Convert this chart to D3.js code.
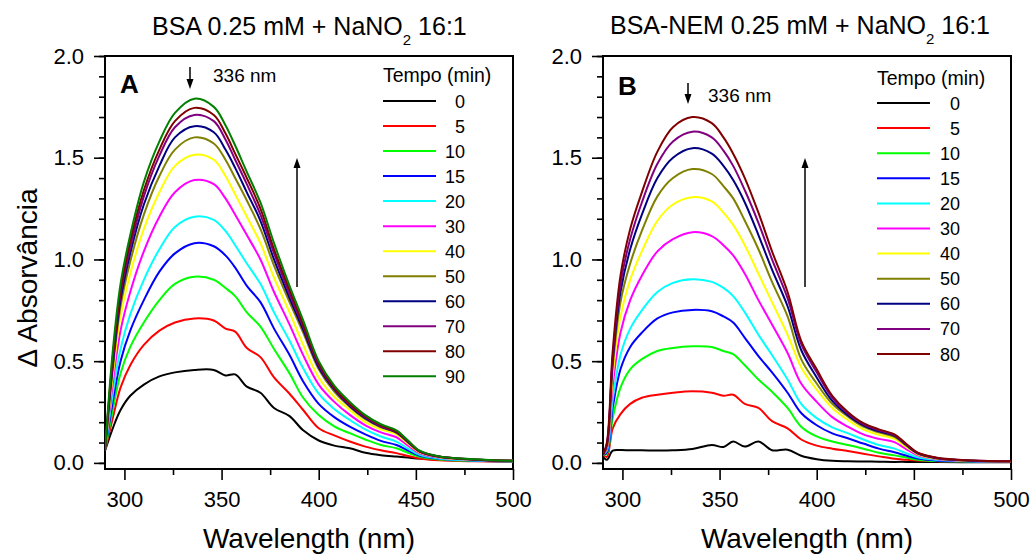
<!DOCTYPE html>
<html>
<head>
<meta charset="utf-8">
<script src="https://cdn.jsdelivr.net/npm/d3@7"></script>
<style>
    body { margin: 0; background: #fff; }
    svg { display: block; }
    text { font-family: "Liberation Sans", Arial, sans-serif; fill: #000; }
</style>
</head>
<body>
<svg id="chart" width="1032" height="556"></svg>
<script>
'use strict';

// wavelength grids (nm)
var wavelengthsA = [290, 294, 298, 303, 310, 318, 326, 336, 346, 352, 357, 363, 370, 377,
                    385, 392, 400, 408, 416, 424, 432, 440, 446, 452, 462, 480, 500];
var wavelengthsB = [290, 292, 295, 299, 304, 310, 318, 326, 336, 346, 352, 357, 363, 370,
                    377, 385, 392, 400, 408, 416, 424, 432, 440, 446, 452, 462, 480, 500];

// legend labels (Tempo, min)
var timesA = ["0", "5", "10", "15", "20", "30", "40", "50", "60", "70", "80", "90"];
var timesB = ["0", "5", "10", "15", "20", "30", "40", "50", "60", "70", "80"];

// panel A: BSA + NaNO2, delta absorbance
var bsa0  = [0.06, 0.17, 0.26, 0.33, 0.385, 0.425, 0.445, 0.457, 0.457, 0.43, 0.435, 0.375, 0.345, 0.27, 0.23, 0.16, 0.11, 0.085, 0.072, 0.05, 0.038, 0.031, 0.026, 0.021, 0.015, 0.01, 0.008];
var bsa5  = [0.06, 0.22, 0.37, 0.48, 0.58, 0.65, 0.69, 0.71, 0.70, 0.66, 0.645, 0.565, 0.52, 0.42, 0.34, 0.26, 0.17, 0.135, 0.105, 0.08, 0.062, 0.048, 0.034, 0.022, 0.013, 0.008, 0.006];
var bsa10 = [0.06, 0.26, 0.44, 0.57, 0.69, 0.80, 0.88, 0.915, 0.90, 0.86, 0.82, 0.74, 0.67, 0.56, 0.44, 0.32, 0.235, 0.18, 0.146, 0.115, 0.088, 0.072, 0.05, 0.03, 0.017, 0.01, 0.008];
var bsa15 = [0.06, 0.30, 0.50, 0.65, 0.80, 0.94, 1.03, 1.08, 1.065, 1.02, 0.96, 0.87, 0.79, 0.66, 0.53, 0.40, 0.29, 0.225, 0.178, 0.14, 0.108, 0.088, 0.06, 0.035, 0.02, 0.011, 0.008];
var bsa20 = [0.06, 0.34, 0.56, 0.73, 0.90, 1.05, 1.16, 1.21, 1.195, 1.14, 1.07, 0.98, 0.88, 0.74, 0.60, 0.465, 0.34, 0.265, 0.211, 0.165, 0.13, 0.105, 0.07, 0.04, 0.022, 0.012, 0.008];
var bsa30 = [0.06, 0.39, 0.65, 0.84, 1.04, 1.21, 1.33, 1.39, 1.37, 1.30, 1.22, 1.12, 1.00, 0.84, 0.68, 0.53, 0.385, 0.30, 0.236, 0.185, 0.15, 0.126, 0.085, 0.047, 0.026, 0.014, 0.01];
var bsa40 = [0.06, 0.43, 0.72, 0.93, 1.15, 1.33, 1.46, 1.515, 1.49, 1.41, 1.32, 1.21, 1.08, 0.91, 0.74, 0.58, 0.42, 0.325, 0.26, 0.20, 0.165, 0.14, 0.094, 0.052, 0.028, 0.015, 0.01];
var bsa50 = [0.06, 0.46, 0.77, 0.99, 1.22, 1.41, 1.54, 1.60, 1.57, 1.49, 1.40, 1.29, 1.15, 0.97, 0.79, 0.64, 0.46, 0.35, 0.275, 0.215, 0.175, 0.148, 0.10, 0.055, 0.03, 0.016, 0.01];
var bsa60 = [0.06, 0.48, 0.80, 1.03, 1.27, 1.46, 1.60, 1.655, 1.625, 1.54, 1.45, 1.33, 1.19, 1.00, 0.81, 0.655, 0.47, 0.36, 0.28, 0.22, 0.178, 0.15, 0.102, 0.056, 0.03, 0.016, 0.01];
var bsa70 = [0.06, 0.50, 0.83, 1.06, 1.31, 1.51, 1.65, 1.71, 1.68, 1.59, 1.49, 1.37, 1.22, 1.03, 0.83, 0.67, 0.48, 0.365, 0.285, 0.225, 0.18, 0.152, 0.104, 0.057, 0.031, 0.017, 0.01];
var bsa80 = [0.06, 0.52, 0.85, 1.09, 1.34, 1.54, 1.68, 1.745, 1.71, 1.62, 1.52, 1.40, 1.25, 1.05, 0.85, 0.68, 0.49, 0.37, 0.29, 0.23, 0.185, 0.155, 0.106, 0.058, 0.031, 0.017, 0.01];
var bsa90 = [0.06, 0.55, 0.88, 1.12, 1.38, 1.58, 1.72, 1.79, 1.75, 1.66, 1.56, 1.43, 1.28, 1.08, 0.87, 0.70, 0.50, 0.38, 0.30, 0.235, 0.19, 0.16, 0.11, 0.06, 0.032, 0.018, 0.01];

// panel B: BSA-NEM + NaNO2, delta absorbance
var nem0  = [0.03, 0.015, 0.06, 0.063, 0.062, 0.062, 0.061, 0.062, 0.068, 0.088, 0.078, 0.105, 0.08, 0.105, 0.062, 0.065, 0.035, 0.018, 0.01, 0.008, 0.007, 0.006, 0.005, 0.005, 0.004, 0.004, 0.003, 0.003];
var nem5  = [0.04, 0.03, 0.17, 0.24, 0.29, 0.32, 0.335, 0.345, 0.352, 0.345, 0.33, 0.335, 0.29, 0.27, 0.205, 0.17, 0.115, 0.085, 0.07, 0.058, 0.045, 0.032, 0.02, 0.016, 0.012, 0.008, 0.006, 0.005];
var nem10 = [0.04, 0.045, 0.22, 0.37, 0.46, 0.51, 0.55, 0.565, 0.573, 0.57, 0.55, 0.535, 0.48, 0.41, 0.35, 0.27, 0.178, 0.13, 0.105, 0.088, 0.07, 0.05, 0.037, 0.026, 0.016, 0.009, 0.006, 0.005];
var nem15 = [0.04, 0.05, 0.27, 0.46, 0.57, 0.64, 0.71, 0.74, 0.752, 0.745, 0.72, 0.69, 0.615, 0.525, 0.445, 0.345, 0.245, 0.185, 0.145, 0.121, 0.095, 0.07, 0.052, 0.036, 0.021, 0.011, 0.007, 0.005];
var nem20 = [0.04, 0.06, 0.31, 0.53, 0.66, 0.75, 0.84, 0.885, 0.903, 0.89, 0.86, 0.82, 0.74, 0.63, 0.53, 0.41, 0.29, 0.22, 0.175, 0.146, 0.115, 0.088, 0.07, 0.048, 0.027, 0.014, 0.008, 0.006];
var nem30 = [0.04, 0.07, 0.38, 0.64, 0.80, 0.92, 1.04, 1.10, 1.134, 1.115, 1.07, 1.02, 0.93, 0.80, 0.68, 0.54, 0.39, 0.30, 0.225, 0.178, 0.14, 0.118, 0.102, 0.068, 0.037, 0.018, 0.009, 0.007];
var nem40 = [0.04, 0.08, 0.43, 0.72, 0.90, 1.04, 1.19, 1.27, 1.306, 1.285, 1.23, 1.17, 1.07, 0.93, 0.79, 0.63, 0.47, 0.36, 0.27, 0.211, 0.165, 0.138, 0.118, 0.079, 0.042, 0.02, 0.01, 0.007];
var nem50 = [0.04, 0.08, 0.47, 0.79, 0.98, 1.14, 1.31, 1.40, 1.444, 1.42, 1.36, 1.30, 1.19, 1.05, 0.89, 0.72, 0.51, 0.39, 0.29, 0.228, 0.178, 0.15, 0.128, 0.086, 0.046, 0.022, 0.011, 0.008];
var nem60 = [0.04, 0.09, 0.50, 0.84, 1.05, 1.22, 1.40, 1.50, 1.547, 1.52, 1.46, 1.39, 1.28, 1.12, 0.95, 0.77, 0.555, 0.42, 0.305, 0.235, 0.185, 0.155, 0.133, 0.089, 0.047, 0.023, 0.011, 0.008];
var nem70 = [0.04, 0.09, 0.52, 0.88, 1.10, 1.28, 1.47, 1.58, 1.628, 1.60, 1.535, 1.46, 1.34, 1.18, 1.00, 0.81, 0.585, 0.445, 0.32, 0.243, 0.19, 0.16, 0.137, 0.092, 0.049, 0.024, 0.012, 0.008];
var nem80 = [0.04, 0.10, 0.55, 0.92, 1.15, 1.33, 1.53, 1.65, 1.70, 1.67, 1.60, 1.52, 1.40, 1.23, 1.04, 0.84, 0.60, 0.46, 0.33, 0.25, 0.195, 0.165, 0.14, 0.094, 0.05, 0.025, 0.012, 0.008];

var seriesA = [bsa0, bsa5, bsa10, bsa15, bsa20, bsa30, bsa40, bsa50, bsa60, bsa70, bsa80, bsa90];
var seriesB = [nem0, nem5, nem10, nem15, nem20, nem30, nem40, nem50, nem60, nem70, nem80];

var yMajorTicks = [0, 0.5, 1.0, 1.5, 2.0];
var xMajorTicks = [300, 350, 400, 450, 500];
var peakLabel = "336 nm";

// Origin default palette, in legend order
var palette = ["#000000", "#ff0000", "#00ff00", "#0000ff", "#00ffff", "#ff00ff",
               "#ffff00", "#808000", "#000080", "#800080", "#800000", "#008000"];

var svg = d3.select("#chart");

var SpectraPanel = (function() {
    function SpectraPanel(id, cfg) {
        this.id = id;
        this.cfg = cfg;
        this.x = d3.scaleLinear().domain([290, 500]).range([cfg.left, cfg.right]);
        this.y = d3.scaleLinear().domain([-0.03, 2.0]).range([469, 56]);
        this.g = svg.append("g").attr("class", "panel-" + id);
    }

    SpectraPanel.prototype.drawAxes = function() {
        var g = this.g, cfg = this.cfg;

        var yMinor = d3.axisLeft(this.y).tickValues(d3.range(0, 2.001, 0.1))
            .tickSize(6).tickFormat("");
        var yMajor = d3.axisLeft(this.y).tickValues(yMajorTicks)
            .tickSize(11).tickPadding(10).tickFormat(d3.format(".1f"));
        var xMinor = d3.axisBottom(this.x).tickValues([325, 375, 425, 475])
            .tickSize(6).tickFormat("");
        var xMajor = d3.axisBottom(this.x).tickValues(xMajorTicks)
            .tickSize(11).tickPadding(11).tickFormat(d3.format("d"));

        [yMinor, yMajor].forEach(function(ax) {
            g.append("g").attr("transform", "translate(" + cfg.left + ",0)").call(ax);
        });
        [xMinor, xMajor].forEach(function(ax) {
            g.append("g").attr("transform", "translate(0,469)").call(ax);
        });

        g.selectAll(".domain").remove();
        g.selectAll(".tick line").attr("stroke", "#000").attr("stroke-width", 1.6);
        g.selectAll(".tick text").style("font-size", "22px")
            .style("font-family", "'Liberation Sans', Arial, sans-serif").attr("fill", "#000");

        g.append("rect")
            .attr("x", cfg.left).attr("y", 56)
            .attr("width", cfg.right - cfg.left).attr("height", 469 - 56)
            .attr("fill", "none").attr("stroke", "#000").attr("stroke-width", 2);
    };

    SpectraPanel.prototype.drawCurves = function(wavelengths, series) {
        var self = this;
        var clipId = "clip-" + this.id;
        this.g.append("clipPath").attr("id", clipId)
            .append("rect")
            .attr("x", this.cfg.left).attr("y", 56)
            .attr("width", this.cfg.right - this.cfg.left).attr("height", 413);

        var line = d3.line()
            .x(function(d, i) { return self.x(wavelengths[i]); })
            .y(function(d) { return self.y(d); })
            .curve(d3.curveCatmullRom.alpha(0.5));

        this.g.append("g").attr("clip-path", "url(#" + clipId + ")")
            .selectAll("path")
            .data(series)
            .enter().append("path")
            .attr("d", line)
            .attr("fill", "none")
            .attr("stroke", function(d, i) { return palette[i]; })
            .attr("stroke-width", 2)
            .attr("stroke-linejoin", "round");
    };

    SpectraPanel.prototype.drawLegend = function(labels) {
        var lg = this.cfg.legend;
        var g = this.g.append("g");
        g.append("text").attr("x", lg.x0).attr("y", lg.headY)
            .style("font-size", "19.5px").text("Tempo (min)");

        var rows = g.selectAll("g.row").data(labels).enter()
            .append("g").attr("class", "row")
            .attr("transform", function(d, i) { return "translate(0," + (lg.y0 + i * lg.step) + ")"; });
        rows.append("line")
            .attr("x1", lg.x0).attr("x2", lg.x0 + 53)
            .attr("stroke", function(d, i) { return palette[i]; })
            .attr("stroke-width", 2);
        rows.append("text")
            .attr("x", lg.labelX).attr("y", 6.5)
            .attr("text-anchor", "end")
            .style("font-size", "18px")
            .text(function(d) { return d; });
    };

    var arrow = function(g, x, yTail, yHead) {
        var dir = yHead > yTail ? 1 : -1;
        g.append("line").attr("x1", x).attr("x2", x)
            .attr("y1", yTail).attr("y2", yHead - dir * 8)
            .attr("stroke", "#000").attr("stroke-width", 1.5);
        g.append("path")
            .attr("d", "M" + x + "," + yHead + "L" + (x - 3.5) + "," + (yHead - dir * 10) +
                       "L" + (x + 3.5) + "," + (yHead - dir * 10) + "Z")
            .attr("fill", "#000");
    };

    SpectraPanel.prototype.drawAnnotations = function() {
        var a = this.cfg.notes;
        var g = this.g;
        g.append("text").attr("x", a.letterX).attr("y", a.letterY)
            .style("font-size", "26px").style("font-weight", "bold").text(this.id);
        arrow(g, a.downX, a.downY0, a.downY1);
        g.append("text").attr("x", a.peakX).attr("y", a.peakY)
            .style("font-size", "19px").text(peakLabel);
        arrow(g, a.upX, a.upY0, a.upY1);

        var t = g.append("text").attr("x", a.titleX).attr("y", a.titleY)
            .style("font-size", "25px");
        t.append("tspan").text(a.title + " 0.25 mM + NaNO");
        t.append("tspan").attr("dy", 10).style("font-size", "15px").text("2");
        t.append("tspan").attr("dy", -10).text(" 16:1");

        g.append("text").attr("x", (this.cfg.left + this.cfg.right) / 2).attr("y", 548)
            .attr("text-anchor", "middle").style("font-size", "28px")
            .text("Wavelength (nm)");
    };

    return SpectraPanel;
})();

var panelA = new SpectraPanel("A", {
    left: 105, right: 513,
    legend: { x0: 383, headY: 82, y0: 101, step: 25.03, labelX: 465 },
    notes: { letterX: 120, letterY: 93, downX: 190, downY0: 67, downY1: 89,
             peakX: 213, peakY: 82, upX: 297, upY0: 287, upY1: 158,
             title: "BSA", titleX: 152, titleY: 35 }
});
var panelB = new SpectraPanel("B", {
    left: 603, right: 1011,
    legend: { x0: 877, headY: 85, y0: 103, step: 25.1, labelX: 960 },
    notes: { letterX: 618, letterY: 95, downX: 688, downY0: 83, downY1: 104,
             peakX: 708, peakY: 102, upX: 805, upY0: 287, upY1: 158,
             title: "BSA-NEM", titleX: 610, titleY: 34 }
});

panelA.drawAxes();
panelA.drawCurves(wavelengthsA, seriesA);
panelA.drawLegend(timesA);
panelA.drawAnnotations();

panelB.drawAxes();
panelB.drawCurves(wavelengthsB, seriesB);
panelB.drawLegend(timesB);
panelB.drawAnnotations();

// shared y title
svg.append("text")
    .attr("transform", "translate(37,278) rotate(-90)")
    .attr("text-anchor", "middle")
    .style("font-size", "28px")
    .text("\u0394 Absorvância");
</script>
</body>
</html>
